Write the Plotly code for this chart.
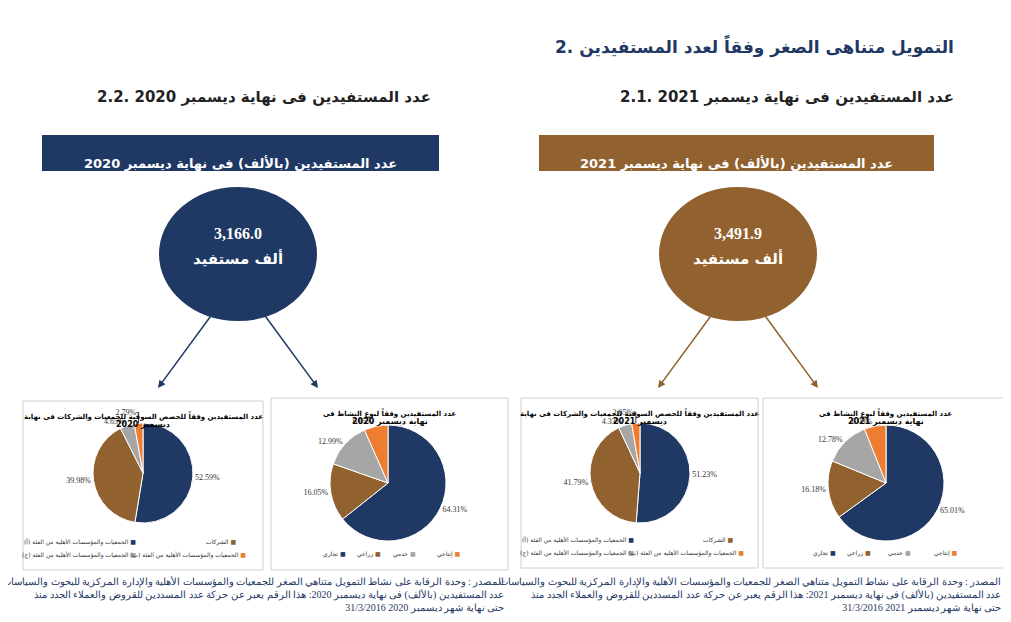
import plotly.graph_objects as go

W, H = 1011, 622
NAVY, BROWN, GREY, ORANGE = "#1F3864", "#91612F", "#A6A6A6", "#ED7D31"
COLORS = [NAVY, BROWN, GREY, ORANGE]

total_2021 = "3,491.9"
total_2020 = "3,166.0"
market_labels = ["الجمعيات والمؤسسات الأهلية من الفئة (أ)", "الشركات",
                 "الجمعيات والمؤسسات الأهلية من الفئة (ج)", "الجمعيات والمؤسسات الأهلية من الفئة (ب)"]
activity_labels = ["تجاري", "زراعي", "خدمي", "إنتاجي"]
market_2020 = [52.59, 39.98, 4.65, 2.79]
activity_2020 = [64.31, 16.05, 12.99, 6.65]
market_2021 = [51.23, 41.79, 4.33, 2.65]
activity_2021 = [65.01, 16.18, 12.78, 6.03]

def px(x):
    return x / W

def py(y):
    return 1 - y / H

fig = go.Figure()
shapes, ann = [], []

def text(x, y, s, size=10, color="black", anchor="center", bold=True, font="Liberation Serif"):
    ann.append(dict(x=px(x), y=py(y), xref="paper", yref="paper", text=f"<b>{s}</b>" if bold else s,
                    showarrow=False, xanchor=anchor, font=dict(size=size, color=color, family=font)))

def pie_panel(x0, y0, x1, y1, values, labels, title1, title2, cx, cy, r, legend_rows):
    shapes.append(dict(type="rect", xref="paper", yref="paper", x0=px(x0), x1=px(x1), y0=py(y1), y1=py(y0),
                       line=dict(color="#D0D0D0", width=1), fillcolor="white", layer="below"))
    text((x0 + x1) / 2, y0 + 15, title1, size=7, font="DejaVu Sans")
    text((x0 + x1) / 2, y0 + 30, title2, size=8, font="DejaVu Sans")
    fig.add_trace(go.Pie(values=values, labels=labels, sort=False, direction="clockwise", rotation=0,
                         marker=dict(colors=COLORS, line=dict(color="white", width=1)),
                         texttemplate="%{value:.2f}%", textposition="outside",
                         textfont=dict(size=8, family="Liberation Serif", color="#333"),
                         domain=dict(x=[px(cx - r), px(cx + r)], y=[py(cy + r), py(cy - r)]),
                         showlegend=False, hoverinfo="label+value"))
    for (lx, ly, i) in legend_rows:
        ann.append(dict(x=px(lx), y=py(ly), xref="paper", yref="paper", showarrow=False, xanchor="right",
                        text=f"{labels[i]} <span style='color:{COLORS[i]}'>■</span>",
                        font=dict(size=6, family="DejaVu Sans", color="#333")))

# headings
text(948, 24, "2. التمويل متناهى الصغر وفقاً لعدد المستفيدين", size=17, color=NAVY, anchor="right", font="DejaVu Sans")
text(948, 78, "2.1. عدد المستفيدين فى نهاية ديسمبر 2021", size=15, color="#222", anchor="right", font="DejaVu Sans")
text(425, 78, "2.2. عدد المستفيدين فى نهاية ديسمبر 2020", size=15, color="#222", anchor="right", font="DejaVu Sans")

for (bx0, bx1, col, yr, tot, cx) in [(35, 430, NAVY, "2020", total_2020, 230), (532, 925, BROWN, "2021", total_2021, 730)]:
    shapes.append(dict(type="rect", xref="paper", yref="paper", x0=px(bx0), x1=px(bx1), y0=py(162), y1=py(128),
                       fillcolor=col, line=dict(color=col)))
    text((bx0 + bx1) / 2, 145, f"عدد المستفيدين (بالألف) فى نهاية ديسمبر {yr}", size=13, color="white", font="DejaVu Sans")
    shapes.append(dict(type="circle", xref="paper", yref="paper", x0=px(cx - 78), x1=px(cx + 78), y0=py(312), y1=py(180),
                       fillcolor=col, line=dict(color=col)))
    text(cx, 226, tot, size=16, color="white")
    text(cx, 250, "ألف مستفيد", size=15, color="white", font="DejaVu Sans")
    for (sx, sy, ex, ey) in [(cx - 25, 305, cx - 80, 380), (cx + 25, 305, cx + 80, 380)]:
        ann.append(dict(x=px(ex), y=py(ey), ax=sx - ex, ay=sy - ey, xref="paper", yref="paper",
                        showarrow=True, arrowhead=2, arrowsize=1, arrowwidth=1.5, arrowcolor=col, text=""))

pie_panel(15, 393, 255, 562, market_2020, market_labels,
          "عدد المستفيدين وفقاً للحصص السوقية للجمعيات والشركات فى نهاية", "ديسمبر 2020", 135, 465, 50,
          [(130, 540, 0), (230, 540, 1), (130, 553, 2), (240, 553, 3)])
pie_panel(263, 390, 500, 562, activity_2020, activity_labels,
          "عدد المستفيدين وفقاً لنوع النشاط فى", "نهاية ديسمبر 2020", 380, 475, 58,
          [(340, 552, 0), (375, 552, 1), (410, 552, 2), (455, 552, 3)])
pie_panel(513, 390, 750, 560, market_2021, market_labels,
          "عدد المستفيدين وفقاً للحصص السوقية للجمعيات والشركات فى نهاية", "ديسمبر 2021", 632, 465, 50,
          [(628, 538, 0), (727, 538, 1), (628, 551, 2), (738, 551, 3)])
pie_panel(755, 390, 1000, 560, activity_2021, activity_labels,
          "عدد المستفيدين وفقاً لنوع النشاط فى", "نهاية ديسمبر 2021", 878, 475, 58,
          [(830, 551, 0), (865, 551, 1), (905, 551, 2), (952, 551, 3)])

src = "المصدر : وحدة الرقابة على نشاط التمويل متناهي الصغر للجمعيات والمؤسسات الأهلية والإدارة المركزية للبحوث والسياسات"
for (x, yr) in [(498, "2020"), (995, "2021")]:
    ann.append(dict(x=px(x), y=py(566), xref="paper", yref="paper", showarrow=False, xanchor="right", yanchor="top",
                    align="right", font=dict(size=10, family="Liberation Serif", color=NAVY),
                    text=f"{src}<br>عدد المستفيدين (بالألف) فى نهاية ديسمبر {yr}: هذا الرقم يعبر عن حركة عدد المسددين للقروض والعملاء الجدد منذ<br>31/3/2016 حتى نهاية شهر ديسمبر {yr}"))

fig.update_layout(width=W, height=H, margin=dict(l=0, r=0, t=0, b=0), paper_bgcolor="white",
                  plot_bgcolor="white", shapes=shapes, annotations=ann)
fig.write_html("out.html")
